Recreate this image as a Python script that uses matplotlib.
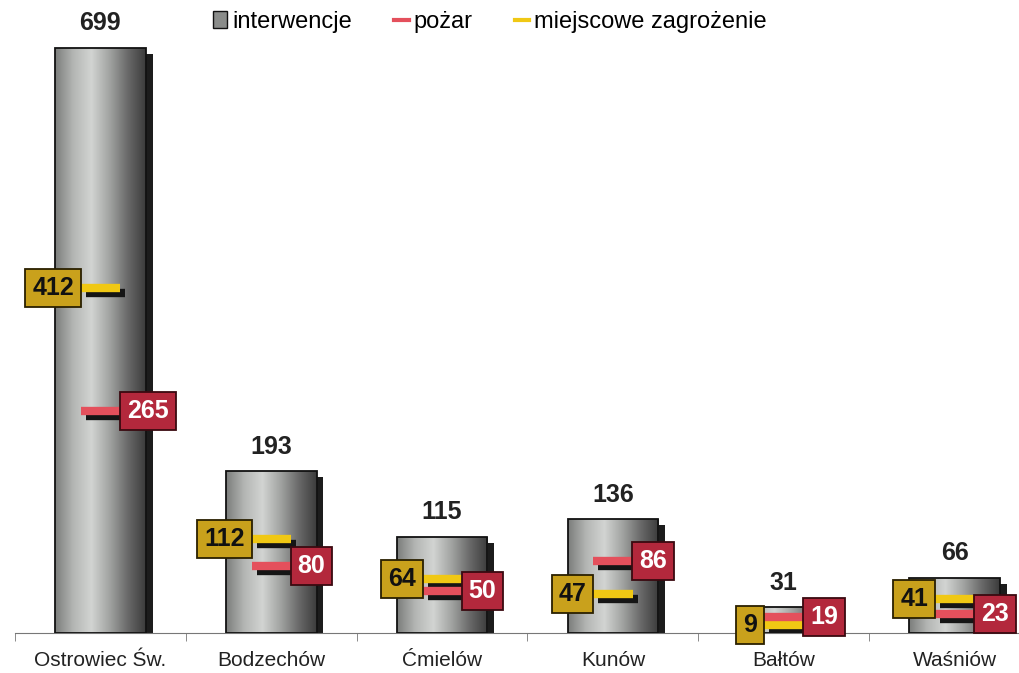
import numpy as np
import matplotlib
matplotlib.use('Agg')
import matplotlib.pyplot as plt
from matplotlib.colors import LinearSegmentedColormap
from matplotlib.lines import Line2D
from matplotlib.patches import Patch

plt.rcParams['font.family'] = ['Liberation Sans', 'DejaVu Sans']

gminy = ['Ostrowiec Św.', 'Bodzechów', 'Ćmielów', 'Kunów', 'Bałtów', 'Waśniów']
interwencje = [699, 193, 115, 136, 31, 66]
pozar = [265, 80, 50, 86, 19, 23]
miejscowe = [412, 112, 64, 47, 9, 41]

x = np.arange(len(gminy))
width = 0.53

fig = plt.figure(figsize=(10.2, 6.73), dpi=100)
ax = fig.add_axes([15 / 1020, 40 / 673, 1025 / 1020, 628 / 673])

# gray metallic gradient for bars
cmap = LinearSegmentedColormap.from_list(
    'metal', ['#7c7e7c', '#b4b6b4', '#d2d4d2', '#a2a4a2', '#6a6a6a', '#3c3c3c'])
grad = np.linspace(0, 1, 200).reshape(1, -1)

# shadows
ax.bar(x + 0.04, np.array(interwencje) - 7, width, color='#1c1c1c', zorder=1)
bars = ax.bar(x, interwencje, width, facecolor='none', edgecolor='#111111',
              linewidth=1.3, zorder=3)
for b in bars:
    l, w, h = b.get_x(), b.get_width(), b.get_height()
    im = ax.imshow(grad, cmap=cmap, aspect='auto', extent=(l, l + w, 0, h),
                   zorder=2, interpolation='bicubic')
    im.set_clip_path(b)
ax.set_xlim(-0.5, 5.5)
ax.set_ylim(0, 750)

# value labels above bars
for xi, v in zip(x, interwencje):
    ax.annotate(str(v), (xi, v), xytext=(0, 9), textcoords='offset points',
                ha='center', va='bottom', fontsize=18, fontweight='bold',
                color='#222222')

# markers
half = 0.115
for vals, col in [(miejscowe, '#f0c814'), (pozar, '#e4505c')]:
    vals = np.array(vals)
    ax.hlines(vals - 6, x - half + 0.03, x + half + 0.03, color='#151515',
              lw=6, zorder=4)
    ax.hlines(vals, x - half, x + half, color=col, lw=6, zorder=5)

# value boxes
for xi, v in zip(x, miejscowe):
    ax.text(xi - 0.155, v, str(v), ha='right', va='center', fontsize=18,
            fontweight='bold', color='#111111', zorder=6,
            bbox=dict(boxstyle='square,pad=0.28', fc='#c9a11c', ec='#2a2000',
                      lw=1.3))
for xi, v in zip(x, pozar):
    ax.text(xi + 0.155, v, str(v), ha='left', va='center', fontsize=18,
            fontweight='bold', color='white', zorder=6,
            bbox=dict(boxstyle='square,pad=0.28', fc='#b3283c', ec='#3a0a10',
                      lw=1.3))

# axes styling
for s in ['top', 'right', 'left']:
    ax.spines[s].set_visible(False)
ax.spines['bottom'].set_color('#777777')
ax.set_yticks([])
ax.set_xticks(x)
ax.set_xticklabels(gminy, fontsize=15, color='#222222')
ax.set_xticks(np.arange(-0.5, 6, 1), minor=True)
ax.tick_params(axis='x', which='major', length=0, pad=13)
ax.tick_params(axis='x', which='minor', length=6, color='#777777')

handles = [Patch(facecolor='#8a8c8a', edgecolor='#111111', label='interwencje'),
           Line2D([], [], color='#e4505c', lw=3, label='pożar'),
           Line2D([], [], color='#f0c814', lw=3, label='miejscowe zagrożenie')]
fig.legend(handles=handles, loc='center left', bbox_to_anchor=(192 / 1020, 1 - 22 / 673),
           ncol=3, frameon=False, fontsize=17, handlelength=0.6,
           handletextpad=0.2, columnspacing=1.8)

fig.savefig('out.png', dpi=100, facecolor='white')
